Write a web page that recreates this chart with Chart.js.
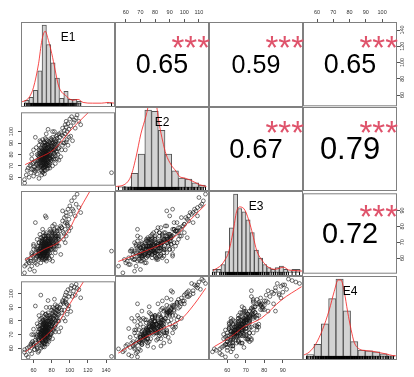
<!DOCTYPE html>
<html>
<head>
<meta charset="utf-8">
<script src="https://cdn.jsdelivr.net/npm/chart.js@4.4.1/dist/chart.umd.min.js"></script>
<style>
  html, body { margin: 0; padding: 0; background: #fff; }
  #wrap { position: relative; width: 414px; height: 377px; overflow: hidden; font-family: 'Liberation Sans', Arial, sans-serif; }
  #wrap canvas { position: absolute; }
  .txt { position: absolute; color: #000; white-space: nowrap; }
</style>
</head>
<body>
<div id="wrap"></div>
<script>
// one value per person, same order in every array
const e1 = [50,52,53,55,56,57,58,59,60,61,62,62,63,63,64,64,65,50.2,54,66,60,58,61,65,57,
  66,66,67,67,67,68,68,68,69,69,69,70,70,70,70,71,71,71,71,72,72,72,72,72,73,73,73,73,73,74,
  74,74,74,74,75,75,75,75,76,76,76,76,77,77,77,78,78,78,79,79,69,70,71,72,73,74,75,68,70,72,
  71,73,74,76,69,67,72,73,75,77,70,71,74,72,76,65,66,68,69,73,75,71,72,74,70,
  80,80,81,81,82,82,83,83,84,84,85,85,86,86,87,87,79,80,81,82,83,84,85,86,80,82,84,79,81,78,
  83,85,87,80,82,76,77,79,78,86,84,88,88,
  89,90,91,92,93,94,95,95,96,96,97,98,99,100,101,102,104,105,106,107,108,110,112,94,97,99,92,101,96,
  146,62,76,70,66,74,90,95,78,64,88,60,83,103,73,81,58,68,
  68,72,75,70,78,66,73,76,71,69,74,77,67,72,80,65,79,70,74,76,68,71,73,75,78,69,72,74,77,70,
  66,73,75,71,80,68,72,76,74,70,64,82,69,73,75,71,77,72,74,70,79,73,68,76,71,75,72,74,78,69,
  84,88,63,91,86,60,93,67,81,98];
const e2 = [58,62,66,60,70,64,67,72,61,69,74,65,71,67,75,63,70,55,68,59,73,76,66,68,71,
  72,78,74,69,80,76,71,82,73,77,70,75,79,72,84,76,74,79,71,78,75,81,73,77,79,76,83,74,80,77,
  72,82,78,85,79,76,81,74,83,78,80,86,77,82,79,84,80,76,85,81,66,68,86,69,88,70,72,79,81,83,
  68,71,75,73,75,83,87,66,84,73,77,81,80,70,75,74,81,66,85,78,89,73,75,83,70,
  84,88,82,90,86,80,89,84,91,87,83,92,88,94,85,90,92,78,95,76,93,79,96,82,86,91,85,74,87,90,
  81,89,80,93,84,88,91,87,83,97,76,92,86,
  95,99,97,103,96,101,106,98,104,109,100,107,102,111,105,113,108,110,103,112,114.5,109,106,90,93,95,88,96,91,
  64,95,102,93,88,98,78,84,68,80,75,84,100,92,90,70,80,91,
  86,66,92,64,72,84,94,68,90,62,88,70,78,91,75,79,94,65,71,89,73,83,69,86,77,80,63,93,85,74,
  76,82,67,77,90,70,84,71,79,88,72,78,83,75,80,69,87,79,73,82,76,85,75,82,78,70,88,81,79,77,
  72,98,86,84,76,67,90,92,100,88];
const e3 = [52,57,60,58,54,61,56,62,59,63,58,60,61,64,62,57,65,56,59,60,66,63,53,62,59,
  63,65,61,66,64,67,62,68,64,70,63,66,65,68,67,64,66,69,62,67,65,70,63,66,68,64,67,69,66,65,
  67,68,63,70,66,68,65,71,67,69,64,66,68,70,65,69,67,72,70,68,60,71,64,60,72,62,66,69,61,74,
  67,65,73,63,68,62,66,64,62,70,72,60,74,69,71,66,63,65,70,61,68,63,68,65,64,
  71,73,69,74,72,70,75,68,73,76,71,74,70,77,73,75,66,72,70,67,78,66,72,79,76,69,74,68,80,71,
  77,69,72,75,66,74,69,72,76,74,70,78,72,
  77,80,79,83,76,85,82,78,88,86,81,90,84,92,87,95,89,97,86,93,99,91,88,75,82,77,89,79,74,
  65,82,73,78,70,85,63,70,78,72,68,69,81,90,86,59,64,73,
  62,70,63,66,60,70,68,74,66,61,59,73,75,71,62,68,77,63,69,72,58,76,62,67,64,73,65,70,61,72,
  64,60,69,74,66,67,63,70,76,64,67,73,65,72,62,68,71,64,66,69,68,75,63,65,70,67,72,61,69,71,
  64,74,66,79,68,68,72,62,76,80];
const e4 = [57,55,60,61,58,63,56,65,62,59,66,64,62,68,61,60,67,59,53.5,58,70,64,59,57,62,
  66,70,68,64,72,69,71,74,67,73,63,71,75,68,76,70,73,69,66,72,74,71,69,77,73,70,75,68,78,72,
  74,71,76,79,73,75,70,77,74,80,72,76,78,75,73,77,81,74,79,76,62,65,78,64,82,67,80,60,73,70,
  75,63,66,71,72,77,68,72,69,68,78,70,81,76,66,72,65,70,75,74,84,79,63,77,69,
  80,83,78,85,79,82,84,81,86,80,83,88,85,82,87,84,82,77,79,84,89,75,81,90,74,87,92,79,86,83,
  76,78,80,88,73,86,84,70,82,91,77,89,85,
  90,92,88,95,93,97,99,94,96,101,92,103,98,100,104,106,102,105,99,107,104,103,97,88,85,91,94,87,93,
  54,91,95,86,84,90,75,80,90,78,72,74,96,98,85,67,70,99,
  71,78,70,80,68,66,76,82,64,73,72,65,81,79,71,76,74,61,85,67,69,72,80,63,70,82,67,73,77,64,
  74,66,72,83,76,79,61,69,75,71,69,74,68,73,78,72,80,74,65,77,71,75,70,73,81,68,70,76,78,66,
  72,80,70,86,88,63,82,74,90,89];

// histogram bars
const e1BinStart = 50.2, e1BinWidth = 4.8;
const e1Counts = [3,6,13,32,77,58,40,25,5,12,4,4,2,0,0,0,0,0,0,1];
const e2BinStart = 54.6, e2BinWidth = 4.6;
const e2Counts = [1,1,12,28,65,64,48,28,14,8,7,4,2];
const e3BinStart = 52.1, e3BinWidth = 2.25;
const e3Counts = [2,2,5,13,28,49,40,38,33,25,14,9,5,3,2,3,4,2,1,2,2];
const e4BinStart = 53.6, e4BinWidth = 4.5;
const e4Counts = [2,13,35,62,83,49,16,7,6,5,3,1];

// density curves (same units as the bars)
const e1DensX = [47.3,52,55.6,60,65.5,69.2,72.8,76.4,80.1,83.8,87.4,91.1,94.7,98.3,103.8,109.2,114.7,125,135,142,146,149.5];
const e1DensY = [1.7,3.3,6.6,16,39,62,71,62,49,33,18,11,8.6,5.3,3.3,4,1,0.3,0.3,1,0.6,0.3];
const e2DensX = [53.1,58.8,63.4,66.9,70.3,73.8,76.0,78.3,80.6,82.9,85.2,87.5,91.0,94.4,96.7,100.1,103.6,107.0,110.5,115.1];
const e2DensY = [0.85,2.3,9.3,25,45,60,71,74,71,53,39,28,19,13.6,9.3,8,6.5,4.5,2.3,0.85];
const e3DensX = [52.3,56.8,58.7,60.5,63.2,65.0,66.8,69.5,72.3,74.1,75.8,78.6,82.2,85.8,90.4,93.1,96.7,101.2];
const e3DensY = [1.2,4.7,7.8,12,26,38,41,39,30,22,14,7.8,3.3,2,3.3,1.6,1.2,0.8];
const e4DensX = [51.0,55.1,59.2,63.4,67.5,70.5,73.0,74.7,76.7,78.8,80.9,82.9,86.0,90.1,94.2,98.3,102.4,106.6,109.7];
const e4DensY = [1,4.6,13.3,29,50,69.5,82,82,69.5,48,29,15,8,6.3,5.6,4.2,2.8,1,0.7];

// smoothed fits in the lower panels (x = column variable, y = row variable)
const fit10x = [50.8,67.3,81.9,91.1,100.2,111.2,120.4];
const fit10y = [71.1,77.5,83.9,91.6,100.6,109.5,116.7];
const fit20x = [50.8,70.9,91.1,100,107.6,115,122.2];
const fit20y = [59.8,65.8,71.8,78.5,86.8,94,100.8];
const fit21x = [54.9,69.8,85.9,95.1,104.3,114.6];
const fit21y = [58.8,63.8,69.8,74.8,83.8,92.8];
const fit30x = [50.8,70.9,87.4,100.2,114.9];
const fit30y = [57.2,67.5,79,92.7,108.7];
const fit31x = [54.9,69.8,85.9,97.4,106.5,114.6];
const fit31y = [56.1,65.2,73.3,79,89.3,100.7];
const fit32x = [53.0,62.1,69.3,78.4,89.3,100.1];
const fit32y = [60.6,67.5,74.4,80.1,92.7,101.8];

// correlations in the upper panels
const corrRow = [0,0,0,1,1,2];
const corrCol = [1,2,3,2,3,3];
const corrValues = [0.65,0.59,0.65,0.67,0.79,0.72];
const corrStars = ['***','***','***','***','***','***'];

const varNames = ['E1','E2','E3','E4'];
const e1Ticks = [60,80,100,120,140];
const e2TopTicks = [60,70,80,90,100,110];
const e2SideTicks = [60,70,80,90,100];
const e3Ticks = [60,70,80,90];
const e4Ticks = [60,70,80,90,100];

const vars = [e1, e2, e3, e4];
const binStarts = [e1BinStart, e2BinStart, e3BinStart, e4BinStart];
const binWidths = [e1BinWidth, e2BinWidth, e3BinWidth, e4BinWidth];
const binCounts = [e1Counts, e2Counts, e3Counts, e4Counts];
const densX = [e1DensX, e2DensX, e3DensX, e4DensX];
const densY = [e1DensY, e2DensY, e3DensY, e4DensY];
const fits = {
  '1,0': [fit10x, fit10y], '2,0': [fit20x, fit20y], '2,1': [fit21x, fit21y],
  '3,0': [fit30x, fit30y], '3,1': [fit31x, fit31y], '3,2': [fit32x, fit32y]
};

const W = 414, H = 377;
const colEdges = [21, 115, 209, 303, 397];
const rowEdges = [22, 107, 191, 276, 360];
const RED = 'rgba(245,30,30,0.8)';
const FONT = "'Liberation Sans', Arial, sans-serif";
const tickFont = { family: FONT, size: 5.5 };

// axis range like R: data range plus 4% each side
const limits = vars.map(v => {
  const lo = Math.min(...v), hi = Math.max(...v), pad = (hi - lo) * 0.04;
  return [lo - pad, hi + pad];
});

const wrap = document.getElementById('wrap');

const framePlugin = {
  id: 'frame',
  afterDraw(chart) {
    const { ctx, chartArea: a } = chart;
    ctx.save();
    ctx.strokeStyle = '#808080';
    ctx.lineWidth = 1;
    ctx.strokeRect(a.left + 0.5, a.top + 0.5, a.right - a.left - 1, a.bottom - a.top - 1);
    ctx.restore();
  }
};

function makeScale(range, side, ticks, size, padding) {
  const s = { type: 'linear', min: range[0], max: range[1], offset: false, display: !!side };
  if (!side) return s;
  const vertical = side === 'left' || side === 'right';
  s.position = side;
  s.grid = { drawOnChartArea: false, drawTicks: true, tickLength: 3, tickColor: '#555', color: '#555' };
  s.border = { display: false };
  s.ticks = {
    font: tickFont, color: '#333', autoSkip: false, padding: padding,
    minRotation: vertical ? 90 : 0, maxRotation: vertical ? 90 : 0,
    crossAlign: vertical ? 'center' : 'near'
  };
  s.afterBuildTicks = sc => { sc.ticks = ticks.map(v => ({ value: v })); };
  s.afterFit = sc => { if (vertical) sc.width = size; else sc.height = size; };
  return s;
}

function addText(txt, css) {
  const d = document.createElement('div');
  d.className = 'txt';
  d.textContent = txt;
  Object.assign(d.style, css);
  wrap.appendChild(d);
}

function makePanel(r, c) {
  const x0 = colEdges[c], x1 = colEdges[c + 1], y0 = rowEdges[r], y1 = rowEdges[r + 1];
  const hasTop = r === 0 && c % 2 === 1;
  const hasBottom = r === 3 && c % 2 === 0;
  const hasLeft = c === 0 && r % 2 === 1;
  const hasRight = c === 3 && r % 2 === 0;
  const padT = hasTop ? y0 : 0, padB = hasBottom ? H - y1 : 0;
  const padL = hasLeft ? x0 : 0, padR = hasRight ? W - x1 : 0;

  const canvas = document.createElement('canvas');
  canvas.width = x1 - x0 + padL + padR;
  canvas.height = y1 - y0 + padT + padB;
  canvas.style.left = (x0 - padL) + 'px';
  canvas.style.top = (y0 - padT) + 'px';
  wrap.appendChild(canvas);

  const topTicks = { 1: e2TopTicks, 3: e4Ticks };
  const bottomTicks = { 0: e1Ticks, 2: e3Ticks };
  const leftTicks = { 1: e2SideTicks, 3: e4Ticks };
  const rightTicks = { 0: e1Ticks, 2: e3Ticks };

  let xScale, yScale, type, datasets;
  if (hasTop) xScale = makeScale(limits[c], 'top', topTicks[c], padT, 3);
  else if (hasBottom) xScale = makeScale(limits[c], 'bottom', bottomTicks[c], padB, 3.7);
  else xScale = makeScale(limits[c], null);

  if (r === c) {
    const counts = binCounts[c];
    const M = Math.max(...counts);
    const yMin = -0.045 * M;
    yScale = { type: 'linear', min: yMin, max: 1.04 * M, display: false };
    type = 'bar';
    datasets = [
      {
        type: 'line',
        data: densX[c].map((x, i) => ({ x: x, y: densY[c][i] })),
        borderColor: RED, borderWidth: 1, pointRadius: 0,
        cubicInterpolationMode: 'monotone', order: 1
      },
      {
        type: 'scatter',
        data: vars[c].map(v => ({ x: v, y: yMin / 2 })),
        pointStyle: 'line', pointRotation: 90, pointRadius: 2.2,
        pointBorderColor: '#000', pointBorderWidth: 1, order: 2
      },
      {
        type: 'bar',
        data: counts.map((n, i) => ({ x: binStarts[c] + (i + 0.5) * binWidths[c], y: n })),
        backgroundColor: '#d3d3d3', borderColor: '#555', borderWidth: 1,
        borderSkipped: false, barPercentage: 1, categoryPercentage: 1, order: 3
      }
    ];
  } else {
    if (hasLeft) yScale = makeScale(limits[r], 'left', leftTicks[r], padL, 2);
    else if (hasRight) yScale = makeScale(limits[r], 'right', rightTicks[r], padR, r === 0 ? -2.6 : -1);
    else yScale = makeScale(limits[r], null);
    type = 'scatter';
    datasets = [];
    if (r > c) {
      const fit = fits[r + ',' + c];
      datasets.push({
        type: 'line',
        data: fit[0].map((x, i) => ({ x: x, y: fit[1][i] })),
        borderColor: RED, borderWidth: 1, pointRadius: 0,
        cubicInterpolationMode: 'monotone', order: 1
      });
      datasets.push({
        data: vars[c].map((v, i) => ({ x: v, y: vars[r][i] })),
        pointRadius: 1.9, pointBorderWidth: 0.7,
        pointBorderColor: 'rgba(20,20,20,0.85)', pointBackgroundColor: 'rgba(0,0,0,0)', order: 2
      });
    }
  }

  new Chart(canvas.getContext('2d'), {
    type: type,
    data: { datasets: datasets },
    options: {
      responsive: false,
      animation: false,
      events: [],
      layout: { padding: 0, autoPadding: false },
      plugins: { legend: { display: false }, tooltip: { enabled: false } },
      scales: { x: xScale, y: yScale }
    },
    plugins: [framePlugin]
  });

  if (r === c) {
    addText(varNames[c], {
      left: x0 + 'px', width: (x1 - x0) + 'px', top: (y0 + 8.5) + 'px',
      textAlign: 'center', fontSize: '12px', lineHeight: '12px'
    });
  }
}

for (let r = 0; r < 4; r++) {
  for (let c = 0; c < 4; c++) makePanel(r, c);
}

corrValues.forEach((v, k) => {
  const r = corrRow[k], c = corrCol[k];
  const x0 = colEdges[c], x1 = colEdges[c + 1], y0 = rowEdges[r], y1 = rowEdges[r + 1];
  addText(v.toFixed(2), {
    left: x0 + 'px', width: (x1 - x0) + 'px', top: y0 + 'px', height: (y1 - y0) + 'px',
    display: 'flex', alignItems: 'center', justifyContent: 'center',
    fontSize: (8 + 29 * v).toFixed(1) + 'px', lineHeight: '1'
  });
  addText(corrStars[k], {
    left: x0 + 'px', width: (x1 - x0 + 1) + 'px', top: (y0 + 9.4) + 'px',
    textAlign: 'right', fontSize: '33px', lineHeight: '1', color: '#df536b'
  });
});
</script>
</body>
</html>
